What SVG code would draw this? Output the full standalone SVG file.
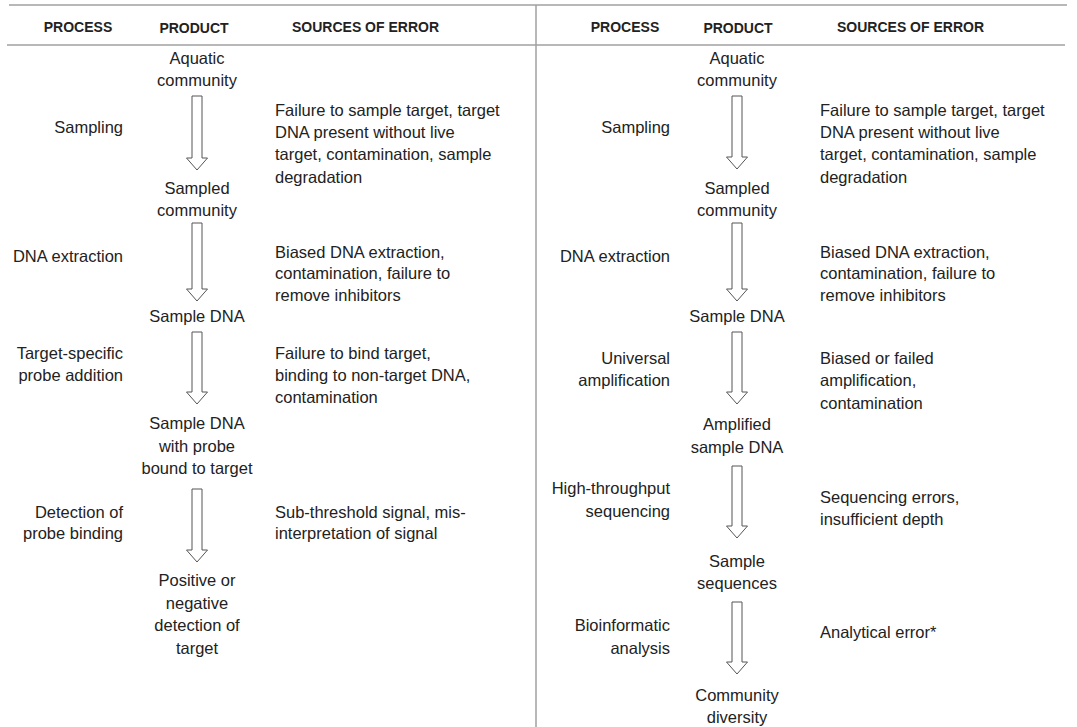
<svg xmlns="http://www.w3.org/2000/svg" width="1077" height="727" viewBox="0 0 1077 727">
<style>
text{font-family:"Liberation Sans",Arial,sans-serif;fill:#222}
.h{font-size:14px;font-weight:bold}
.t{font-size:16.5px}
.p{text-anchor:end}
.m{text-anchor:middle}
.rule{stroke:#a0a0a0;stroke-width:1.5;fill:none}
.arrow{fill:#fff;stroke:#555;stroke-width:1}
</style>
<rect width="1077" height="727" fill="#fff"/>
<g id="rules">
<line class="rule" x1="9" y1="5" x2="1067" y2="5"/>
<line class="rule" x1="7" y1="45" x2="1065" y2="45"/>
<line class="rule" x1="536" y1="5" x2="536" y2="727"/>
</g>
<g id="headers">
<text class="h m" x="78" y="32">PROCESS</text>
<text class="h m" x="194" y="33">PRODUCT</text>
<text class="h" x="292" y="32">SOURCES OF ERROR</text>
<text class="h m" x="625" y="32">PROCESS</text>
<text class="h m" x="738" y="33">PRODUCT</text>
<text class="h" x="837" y="32">SOURCES OF ERROR</text>
</g>
<g id="connectors">
<path class="arrow" d="M192,96V158H186.5L197,170L207.5,158H202V96Z"/>
<path class="arrow" d="M192,223V289H186.5L197,301L207.5,289H202V223Z"/>
<path class="arrow" d="M192,332V392H186.5L197,404L207.5,392H202V332Z"/>
<path class="arrow" d="M192,489V550H186.5L197,562L207.5,550H202V489Z"/>
<path class="arrow" d="M732,96V157H726.5L737,169L747.5,157H742V96Z"/>
<path class="arrow" d="M732,223V289H726.5L737,301L747.5,289H742V223Z"/>
<path class="arrow" d="M732,332V392H726.5L737,404L747.5,392H742V332Z"/>
<path class="arrow" d="M732,466V526H726.5L737,538L747.5,526H742V466Z"/>
<path class="arrow" d="M732,602V662H726.5L737,674L747.5,662H742V602Z"/>
</g>
<g id="L-aquatic"><text class="t m" x="197" y="64">Aquatic</text><text class="t m" x="197" y="86">community</text></g>
<g id="L-sampling"><text class="t p" x="123" y="133">Sampling</text></g>
<g id="L-err1"><text class="t" x="275" y="116">Failure to sample target, target</text><text class="t" x="275" y="138">DNA present without live</text><text class="t" x="275" y="160">target, contamination, sample</text><text class="t" x="275" y="183">degradation</text></g>
<g id="L-sampled"><text class="t m" x="197" y="194">Sampled</text><text class="t m" x="197" y="216">community</text></g>
<g id="L-extraction"><text class="t p" x="123" y="262">DNA extraction</text></g>
<g id="L-err2"><text class="t" x="275" y="258">Biased DNA extraction,</text><text class="t" x="275" y="279">contamination, failure to</text><text class="t" x="275" y="301">remove inhibitors</text></g>
<g id="L-sampledna"><text class="t m" x="197" y="322">Sample DNA</text></g>
<g id="L-probe"><text class="t p" x="123" y="359">Target-specific</text><text class="t p" x="123" y="381">probe addition</text></g>
<g id="L-err3"><text class="t" x="275" y="359">Failure to bind target,</text><text class="t" x="275" y="381">binding to non-target DNA,</text><text class="t" x="275" y="403">contamination</text></g>
<g id="L-bound"><text class="t m" x="197" y="429">Sample DNA</text><text class="t m" x="197" y="452">with probe</text><text class="t m" x="197" y="474">bound to target</text></g>
<g id="L-detection"><text class="t p" x="123" y="518">Detection of</text><text class="t p" x="123" y="539">probe binding</text></g>
<g id="L-err4"><text class="t" x="275" y="518">Sub-threshold signal, mis-</text><text class="t" x="275" y="539">interpretation of signal</text></g>
<g id="L-result"><text class="t m" x="197" y="586">Positive or</text><text class="t m" x="197" y="609">negative</text><text class="t m" x="197" y="631">detection of</text><text class="t m" x="197" y="654">target</text></g>
<g id="R-aquatic"><text class="t m" x="737" y="64">Aquatic</text><text class="t m" x="737" y="86">community</text></g>
<g id="R-sampling"><text class="t p" x="670" y="133">Sampling</text></g>
<g id="R-err1"><text class="t" x="820" y="116">Failure to sample target, target</text><text class="t" x="820" y="138">DNA present without live</text><text class="t" x="820" y="160">target, contamination, sample</text><text class="t" x="820" y="183">degradation</text></g>
<g id="R-sampled"><text class="t m" x="737" y="194">Sampled</text><text class="t m" x="737" y="216">community</text></g>
<g id="R-extraction"><text class="t p" x="670" y="262">DNA extraction</text></g>
<g id="R-err2"><text class="t" x="820" y="258">Biased DNA extraction,</text><text class="t" x="820" y="279">contamination, failure to</text><text class="t" x="820" y="301">remove inhibitors</text></g>
<g id="R-sampledna"><text class="t m" x="737" y="322">Sample DNA</text></g>
<g id="R-amp"><text class="t p" x="670" y="364">Universal</text><text class="t p" x="670" y="386">amplification</text></g>
<g id="R-err3"><text class="t" x="820" y="364">Biased or failed</text><text class="t" x="820" y="386">amplification,</text><text class="t" x="820" y="409">contamination</text></g>
<g id="R-amplified"><text class="t m" x="737" y="430">Amplified</text><text class="t m" x="737" y="453">sample DNA</text></g>
<g id="R-seq"><text class="t p" x="670" y="494">High-throughput</text><text class="t p" x="670" y="517">sequencing</text></g>
<g id="R-err4"><text class="t" x="820" y="503">Sequencing errors,</text><text class="t" x="820" y="525">insufficient depth</text></g>
<g id="R-sequences"><text class="t m" x="737" y="567">Sample</text><text class="t m" x="737" y="589">sequences</text></g>
<g id="R-bioinf"><text class="t p" x="670" y="631">Bioinformatic</text><text class="t p" x="670" y="654">analysis</text></g>
<g id="R-err5"><text class="t" x="820" y="638">Analytical error*</text></g>
<g id="R-diversity"><text class="t m" x="737" y="701">Community</text><text class="t m" x="737" y="723">diversity</text></g>
</svg>
